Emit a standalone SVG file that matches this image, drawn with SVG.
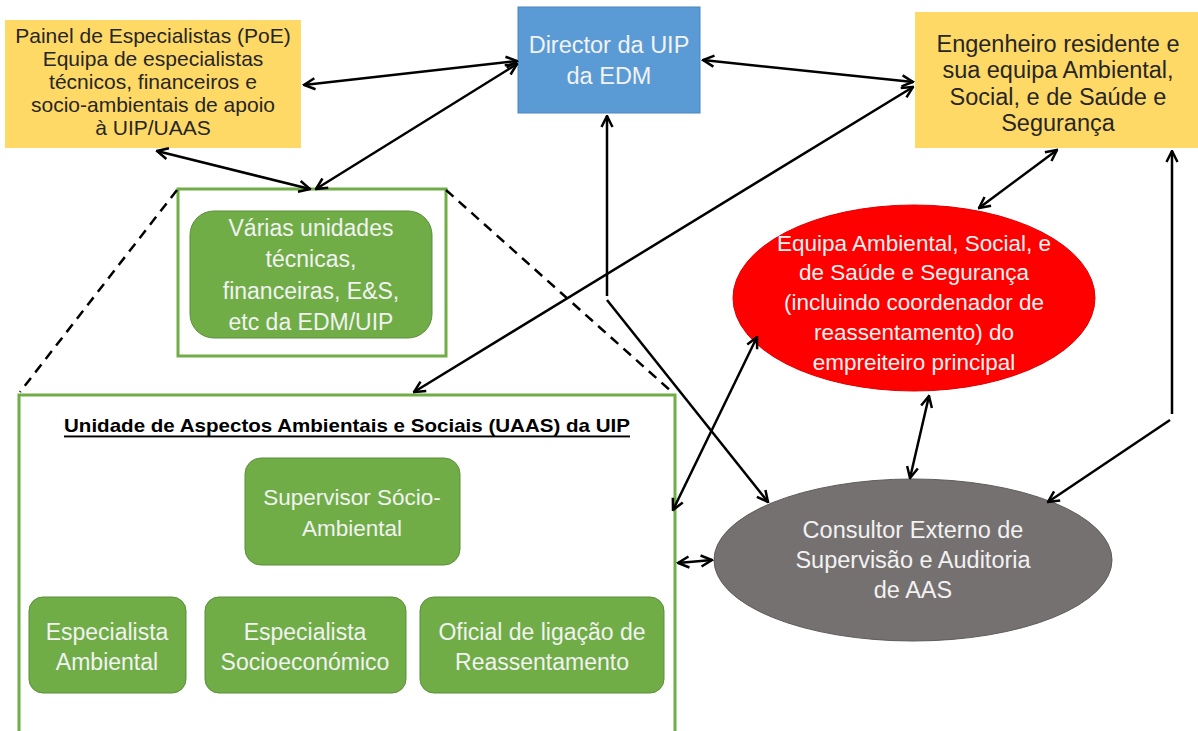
<svg xmlns="http://www.w3.org/2000/svg" width="1198" height="731" viewBox="0 0 1198 731">
<style>
text{font-family:"Liberation Sans",Arial,sans-serif;text-anchor:middle;dominant-baseline:central}
.dk{fill:#262626;font-size:21px}
.wt{fill:#f2f2f2;font-size:23px}
.yel{fill:#FFD966}
.gbox{fill:#70AD47;stroke:#5a8f38;stroke-width:1}
.gout{fill:none;stroke:#70AD47;stroke-width:3}
.c{stroke:#000;stroke-width:2.5;fill:none}
.dash{stroke:#000;stroke-width:2.5;fill:none;stroke-dasharray:10 7}
</style>
<defs>
<marker id="ah" viewBox="0 0 14 14" refX="12.5" refY="7" markerWidth="14" markerHeight="14" markerUnits="userSpaceOnUse" orient="auto-start-reverse">
<path d="M1.5,1.5 L12.5,7 L1.5,12.5" fill="none" stroke="#000" stroke-width="2.5"/>
</marker>
</defs>
<rect width="1198" height="731" fill="#fff"/>

<g id="poe">
<rect class="yel" x="5" y="20" width="296" height="128"/>
<text class="dk" x="153" y="35">Painel de Especialistas (PoE)</text>
<text class="dk" x="153" y="58">Equipa de especialistas</text>
<text class="dk" x="153" y="81">técnicos, financeiros e</text>
<text class="dk" x="153" y="104">socio-ambientais de apoio</text>
<text class="dk" x="153" y="127">à UIP/UAAS</text>
</g>

<g id="director">
<rect x="518" y="7" width="182" height="106" fill="#5B9BD5" stroke="#4a86bf" stroke-width="1"/>
<text class="wt" x="609" y="45" style="font-size:23.5px">Director da UIP</text>
<text class="wt" x="609" y="76" style="font-size:23.5px">da EDM</text>
</g>

<g id="engenheiro">
<rect class="yel" x="915" y="12" width="283" height="136"/>
<text class="dk" x="1058" y="44" style="font-size:23.5px">Engenheiro residente e</text>
<text class="dk" x="1058" y="70" style="font-size:23.5px">sua equipa Ambiental,</text>
<text class="dk" x="1058" y="97" style="font-size:23.5px">Social, e de Saúde e</text>
<text class="dk" x="1058" y="123" style="font-size:23.5px">Segurança</text>
</g>

<g id="unidades">
<rect class="gout" x="178" y="189" width="268" height="167"/>
<rect class="gbox" x="190" y="211" width="242" height="127" rx="24"/>
<text class="wt" x="311" y="228">Várias unidades</text>
<text class="wt" x="311" y="259">técnicas,</text>
<text class="wt" x="311" y="291">financeiras, E&amp;S,</text>
<text class="wt" x="311" y="322">etc da EDM/UIP</text>
</g>

<g id="uaas">
<rect class="gout" x="19" y="395" width="656" height="340"/>
<text x="347" y="425" font-size="19" font-weight="bold" fill="#000" text-decoration="underline" textLength="566" lengthAdjust="spacingAndGlyphs">Unidade de Aspectos Ambientais e Sociais (UAAS) da UIP</text>
</g>

<g id="supervisor">
<rect class="gbox" x="245" y="458" width="215" height="107" rx="16"/>
<text class="wt" x="352" y="497" style="font-size:22.5px">Supervisor Sócio-</text>
<text class="wt" x="352" y="528" style="font-size:22.5px">Ambiental</text>
</g>

<g id="esp-ambiental">
<rect class="gbox" x="29" y="597" width="157" height="96" rx="14"/>
<text class="wt" x="107" y="632">Especialista</text>
<text class="wt" x="107" y="662">Ambiental</text>
</g>

<g id="esp-socio">
<rect class="gbox" x="205" y="597" width="201" height="96" rx="14"/>
<text class="wt" x="305" y="632">Especialista</text>
<text class="wt" x="305" y="662">Socioeconómico</text>
</g>

<g id="oficial">
<rect class="gbox" x="420" y="597" width="244" height="96" rx="14"/>
<text class="wt" x="542" y="632">Oficial de ligação de</text>
<text class="wt" x="542" y="662">Reassentamento</text>
</g>

<g id="empreiteiro">
<ellipse cx="914" cy="298" rx="181" ry="93" fill="#FF0000" stroke="#d00" stroke-width="1"/>
<text class="wt" x="914" y="243" style="font-size:22.5px">Equipa Ambiental, Social, e</text>
<text class="wt" x="914" y="272" style="font-size:22.5px">de Saúde e Segurança</text>
<text class="wt" x="914" y="302" style="font-size:22.5px">(incluindo coordenador de</text>
<text class="wt" x="914" y="332" style="font-size:22.5px">reassentamento) do</text>
<text class="wt" x="914" y="362" style="font-size:22.5px">empreiteiro principal</text>
</g>

<g id="consultor">
<ellipse cx="913" cy="560" rx="199" ry="81" fill="#767171" stroke="#5f5a5a" stroke-width="1"/>
<text class="wt" x="913" y="530" style="font-size:23.5px">Consultor Externo de</text>
<text class="wt" x="913" y="560" style="font-size:23.5px">Supervisão e Auditoria</text>
<text class="wt" x="913" y="590" style="font-size:23.5px">de AAS</text>
</g>

<g id="connectors">
<line class="dash" x1="177" y1="190" x2="20" y2="392"/>
<line class="dash" x1="446" y1="190" x2="672" y2="392"/>
<line class="c" x1="304" y1="85" x2="517" y2="61" marker-start="url(#ah)" marker-end="url(#ah)"/>
<line class="c" x1="316" y1="189" x2="517" y2="64" marker-start="url(#ah)" marker-end="url(#ah)"/>
<line class="c" x1="157" y1="151" x2="310" y2="189" marker-start="url(#ah)" marker-end="url(#ah)"/>
<line class="c" x1="703" y1="60" x2="913" y2="82" marker-start="url(#ah)" marker-end="url(#ah)"/>
<line class="c" x1="913" y1="87" x2="414" y2="392" marker-start="url(#ah)" marker-end="url(#ah)"/>
<line class="c" x1="1057" y1="150" x2="979" y2="208" marker-start="url(#ah)" marker-end="url(#ah)"/>
<line class="c" x1="607" y1="296" x2="607" y2="116" marker-end="url(#ah)"/>
<line class="c" x1="607" y1="300" x2="768" y2="502" marker-end="url(#ah)"/>
<line class="c" x1="1172" y1="414" x2="1172" y2="151" marker-end="url(#ah)"/>
<line class="c" x1="1170" y1="420" x2="1048" y2="502" marker-end="url(#ah)"/>
<line class="c" x1="757" y1="337" x2="673" y2="510" marker-start="url(#ah)" marker-end="url(#ah)"/>
<line class="c" x1="929" y1="396" x2="910" y2="478" marker-start="url(#ah)" marker-end="url(#ah)"/>
<line class="c" x1="678" y1="563" x2="712" y2="560" marker-start="url(#ah)" marker-end="url(#ah)"/>
</g>
</svg>
